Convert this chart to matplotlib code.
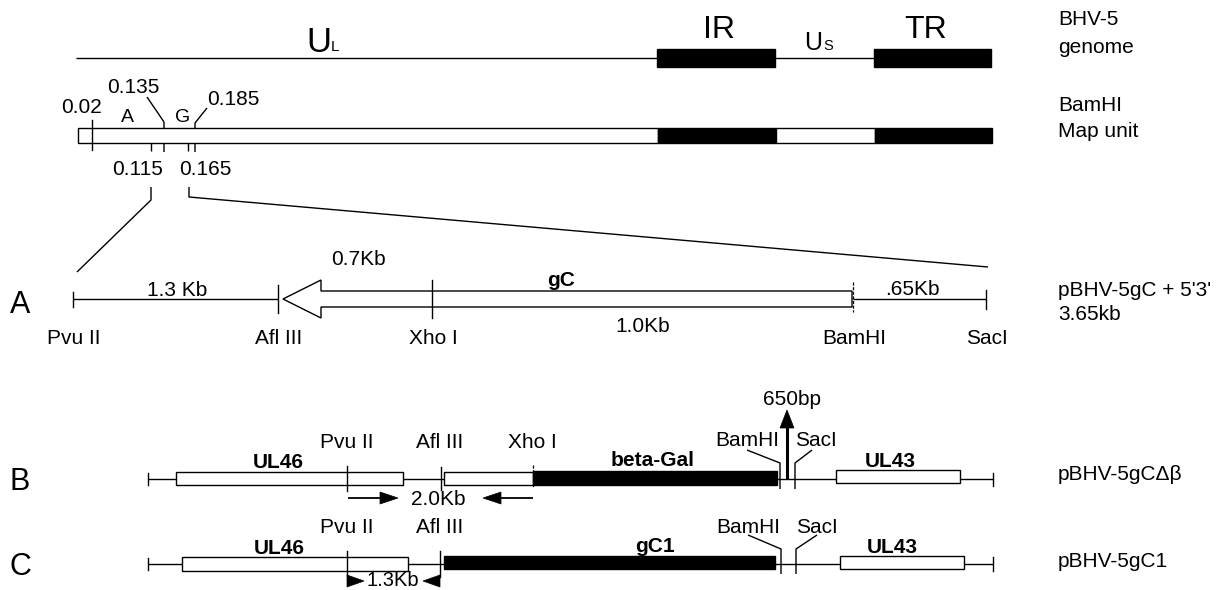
import matplotlib
matplotlib.use("Agg")
import matplotlib.pyplot as plt
from matplotlib.patches import Rectangle, Polygon

plt.rcParams['font.family'] = ['Liberation Sans', 'DejaVu Sans']

W, H = 1219, 590
LW = 1.0

# ---------------- data (diagram coordinates, pixel space) ----------------
# BHV-5 genome: (start, end, kind)
genome_y = 58
genome_segments = [(76, 657, 'line'), (657, 775, 'box'), (775, 874, 'line'), (874, 991, 'box')]
# BamHI map bar
map_top, map_bot = 128, 143
map_segments = [(78, 658, 'open'), (658, 776, 'black'), (776, 875, 'open'), (875, 992, 'black')]
map_unit_labels = ['0.02', '0.135', '0.185', '0.115', '0.165']
fragment_labels = ['A', 'G']

# Row A: pBHV-5gC + 5'3'
rowA_y = 299
rowA_sites = ['Pvu II', 'Afl III', 'Xho I', 'BamHI', 'SacI']
rowA_site_x = [73, 278, 432, 853, 986]
rowA_sizes = ['1.3 Kb', '0.7Kb', '1.0Kb', '.65Kb']

# Row B: pBHV-5gCΔβ
rowB_y = 479
rowB_sites = ['Pvu II', 'Afl III', 'Xho I', 'BamHI', 'SacI']
rowB_site_x = [347, 441, 533, 780, 795]
rowB_genes = ['UL46', 'beta-Gal', 'UL43']

# Row C: pBHV-5gC1
rowC_y = 564
rowC_sites = ['Pvu II', 'Afl III', 'BamHI', 'SacI']
rowC_site_x = [347, 440, 781, 796]
rowC_genes = ['UL46', 'gC1', 'UL43']

right_labels = [("BHV-5", 25), ("genome", 53), ("BamHI", 111), ("Map unit", 137),
                ("pBHV-5gC + 5'3'", 296), ("3.65kb", 320),
                ("pBHV-5gCΔβ", 480), ("pBHV-5gC1", 567)]
panel_letters = [("A", 313), ("B", 490), ("C", 575)]

# ---------------- drawing ----------------
fig = plt.figure(figsize=(W / 100, H / 100), dpi=100)
ax = fig.add_axes([0, 0, 1, 1])
ax.set_xlim(0, W)
ax.set_ylim(H, 0)
ax.axis('off')

FS = 15


def line(xs, ys, lw=LW, **kw):
    ax.plot(xs, ys, color='black', lw=lw, solid_capstyle='butt', **kw)


def box(x0, x1, y0, y1, filled):
    ax.add_patch(Rectangle((x0, y0), x1 - x0, y1 - y0,
                           facecolor='black' if filled else 'white',
                           edgecolor='black', lw=LW, zorder=3))


def text(x, y, s, size=FS, ha='center', weight='normal', **kw):
    ax.text(x, y, s, fontsize=size, ha=ha, va='baseline', weight=weight, **kw)


def vtick(x, y0, y1, dashed=False):
    ax.plot([x, x], [y0, y1], color='black', lw=0.9 if dashed else LW,
            ls=(0, (2.5, 1.2)) if dashed else '-', zorder=4)


# genome line
for x0, x1, kind in genome_segments:
    if kind == 'line':
        line([x0, x1], [genome_y, genome_y])
    else:
        box(x0, x1, 49, 67, True)
text(319, 52, 'U', size=25)
text(331, 51, 'L', size=11, ha='left')
text(719, 38, 'IR', size=23)
text(813, 50, 'U', size=18)
text(823, 50, 'S', size=10.5, ha='left')
text(926, 38, 'TR', size=23)

# BamHI map
for x0, x1, kind in map_segments:
    box(x0, x1, map_top, map_bot, kind == 'black')
vtick(92, 120, 150)
line([164, 164, 147], [152, 122, 97])
line([195, 195, 207], [152, 123, 108])
line([151, 151], [143, 151])
line([188, 188], [143, 151])
text(82, 113, map_unit_labels[0])
text(133, 93, map_unit_labels[1])
text(233, 105, map_unit_labels[2])
text(138, 175, map_unit_labels[3])
text(205, 175, map_unit_labels[4])
text(127, 122, fragment_labels[0], size=14)
text(183, 122, fragment_labels[1], size=14)

# zoom-in lines
line([151, 151, 77], [187, 200, 272])
line([189, 189, 988], [187, 197, 267])

# Row A
y = rowA_y
line([rowA_site_x[0], rowA_site_x[1]], [y, y])
line([rowA_site_x[3], rowA_site_x[4]], [y, y])
vtick(rowA_site_x[0], y - 7, y + 8)
vtick(rowA_site_x[1], y - 14, y + 14)
arrow = Polygon([(283, y), (321, y - 19), (321, y - 8), (852, y - 8), (852, y + 8),
                 (321, y + 8), (321, y + 19)], closed=True, facecolor='white',
                edgecolor='black', lw=LW, zorder=3)
ax.add_patch(arrow)
vtick(rowA_site_x[2], y - 19, y + 19)
vtick(rowA_site_x[3], y - 17, y + 13, dashed=True)
vtick(rowA_site_x[4], y - 9, y + 10)
text(177, 296, rowA_sizes[0])
text(358, 265, rowA_sizes[1])
text(643, 332, rowA_sizes[2])
text(912, 295, rowA_sizes[3])
text(561, 286, 'gC', weight='bold')
for s, x in zip(rowA_sites, rowA_site_x):
    text(x + 1, 344, s)

# Row B
y = rowB_y
line([148, 993], [y, y], zorder=1)
vtick(148, y - 6, y + 6)
vtick(993, y - 6, y + 7)
box(176, 403, y - 7, y + 6, False)
box(444, 533, y - 7, y + 6, False)
box(533, 777, y - 8, y + 6, True)
box(836, 960, y - 9, y + 4, False)
vtick(rowB_site_x[0], y - 13, y + 12)
vtick(rowB_site_x[1], y - 12, y + 11)
vtick(rowB_site_x[2], y - 14, y + 9, dashed=True)
line([rowB_site_x[3], rowB_site_x[3], 747], [y + 10, y - 16, 450], zorder=4)
line([rowB_site_x[4], rowB_site_x[4], 812], [y + 10, y - 16, 450], zorder=4)
# 650bp arrow
ax.plot([787, 787], [y, 426], color='black', lw=2.2, solid_capstyle='butt', zorder=5)
ax.add_patch(Polygon([(787, 410), (780, 428), (794, 428)], closed=True,
                     facecolor='black', edgecolor='black', lw=0.5, zorder=5))
text(792, 405, '650bp')
# 2.0Kb arrows
ay = 498
line([348, 381], [ay, ay], lw=1.3)
ax.add_patch(Polygon([(398, ay), (380, ay - 6), (380, ay + 6)], closed=True,
                     facecolor='black', edgecolor='black', lw=0.5))
line([533, 500], [ay, ay], lw=1.3)
ax.add_patch(Polygon([(483, ay), (501, ay - 6), (501, ay + 6)], closed=True,
                     facecolor='black', edgecolor='black', lw=0.5))
text(438, 505, '2.0Kb')
text(347, 448, rowB_sites[0])
text(440, 448, rowB_sites[1])
text(532, 448, rowB_sites[2])
text(747, 446, rowB_sites[3])
text(816, 446, rowB_sites[4])
text(278, 468, rowB_genes[0], weight='bold')
text(653, 466, rowB_genes[1], weight='bold')
text(890, 467, rowB_genes[2], weight='bold')

# Row C
y = rowC_y
line([148, 993], [y, y], zorder=1)
vtick(148, y - 6, y + 6)
vtick(993, y - 7, y + 7)
box(182, 408, y - 7, y + 7, False)
box(444, 775, y - 8, y + 5, True)
box(840, 964, y - 8, y + 5, False)
vtick(rowC_site_x[0], y - 13, y + 12)
vtick(rowC_site_x[1], y - 13, y + 13)
line([rowC_site_x[2], rowC_site_x[2], 748], [y + 10, y - 15, 535], zorder=4)
line([rowC_site_x[3], rowC_site_x[3], 817], [y + 10, y - 15, 535], zorder=4)
cy = 581
ax.add_patch(Polygon([(364, cy), (347, cy - 6), (347, cy + 6)], closed=True,
                     facecolor='black', edgecolor='black', lw=0.5))
ax.add_patch(Polygon([(423, cy), (440, cy - 6), (440, cy + 6)], closed=True,
                     facecolor='black', edgecolor='black', lw=0.5))
text(393, 586, '1.3Kb', size=14.5)
text(347, 533, rowC_sites[0])
text(440, 533, rowC_sites[1])
text(748, 533, rowC_sites[2])
text(817, 533, rowC_sites[3])
text(279, 554, rowC_genes[0], weight='bold')
text(655, 552, rowC_genes[1], weight='bold')
text(892, 553, rowC_genes[2], weight='bold')

# right labels and panel letters
for s, yy in right_labels:
    text(1058, yy, s, ha='left')
for s, yy in panel_letters:
    text(20, yy, s, size=22)

fig.savefig('out.png', dpi=100)
